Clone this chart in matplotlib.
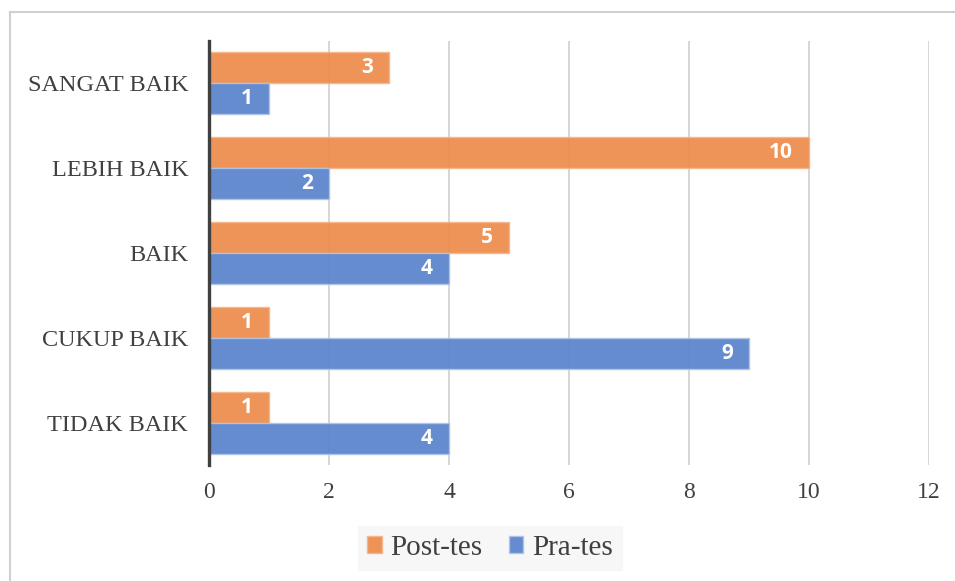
import numpy as np
import matplotlib.pyplot as plt
from matplotlib.lines import Line2D

# categories listed bottom to top
kategori = ['TIDAK BAIK', 'CUKUP BAIK', 'BAIK', 'LEBIH BAIK', 'SANGAT BAIK']
post_tes = [1, 1, 5, 10, 3]
pra_tes = [4, 9, 4, 2, 1]
x_ticks = [0, 2, 4, 6, 8, 10, 12]

orange = '#EE8E4F'
blue = '#5D86CC'

fig = plt.figure(figsize=(9.55, 5.81), dpi=100)
ax = fig.add_axes([209/955, 1-465/581, 720/955, 424/581])

# outer frame of the chart area (only left and top edges show)
fig.add_artist(Line2D([9.5/955, 9.5/955], [0, 1-12/581], color='#D0D0D0', lw=1.5))
fig.add_artist(Line2D([9.5/955, 1], [1-12/581, 1-12/581], color='#D0D0D0', lw=1.5))

y = np.arange(len(kategori))
h = 0.366
b1 = ax.barh(y + h/2, post_tes, height=h, color=orange, edgecolor='#F6B68C',
             linewidth=1, alpha=0.95, zorder=3, label='Post-tes')
b2 = ax.barh(y - h/2, pra_tes, height=h, color=blue, edgecolor='#AFC4E8',
             linewidth=1, alpha=0.95, zorder=3, label='Pra-tes')

for bars, vals in [(b1, post_tes), (b2, pra_tes)]:
    for bar, v in zip(bars, vals):
        ax.annotate(str(v), (v, bar.get_y() + bar.get_height()/2),
                    xytext=(-11.5, 0), textcoords='offset points',
                    ha='right', va='center', color='white',
                    fontsize=15, fontweight='bold', family='Open Sans', zorder=4)

ax.set_xlim(0, 12)
ax.set_ylim(-0.5, len(kategori) - 0.5)
ax.set_xticks(x_ticks)
ax.set_yticks(y)
ax.set_yticklabels(kategori)
ax.xaxis.grid(True, color='#CFCFCF', lw=1.2, zorder=1)
ax.set_axisbelow(True)

for s in ['top', 'right', 'bottom']:
    ax.spines[s].set_visible(False)
ax.spines['left'].set_color('#404040')
ax.spines['left'].set_linewidth(2.4)
ax.spines['left'].set_zorder(5)

ax.tick_params(axis='both', length=0, labelcolor='#404040', labelsize=17)
ax.tick_params(axis='x', pad=12)
ax.tick_params(axis='y', pad=15, labelsize=17.5)
for lbl in ax.get_xticklabels() + ax.get_yticklabels():
    lbl.set_family('Liberation Serif')

leg = fig.legend(handles=[b1, b2], loc='center', bbox_to_anchor=(490/955, 1-548/581),
                 ncol=2, frameon=True, fancybox=False, facecolor='#F7F7F7',
                 edgecolor='#F7F7F7', prop={'family': 'Liberation Serif', 'size': 21},
                 handlelength=0.5, handleheight=0.5, handletextpad=0.3,
                 columnspacing=0.9, borderpad=0.3, labelcolor='#404040')
leg.get_frame().set_alpha(1)

fig.savefig('out.png', dpi=100, facecolor='white')
